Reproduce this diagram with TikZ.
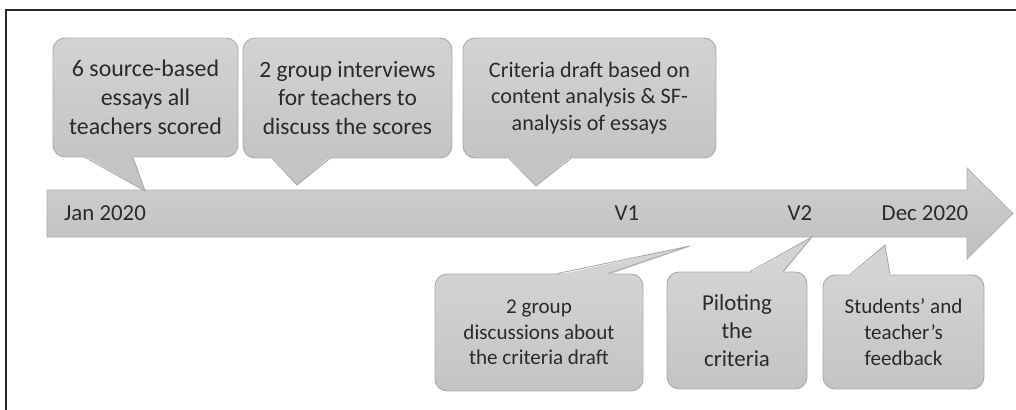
\documentclass[tikz,border=0pt]{standalone}
\usepackage{fontspec}
\setmainfont{Carlito}
\usetikzlibrary{calc}
\definecolor{bubbletop}{HTML}{D3D3D3}
\definecolor{bubblebot}{HTML}{C4C4C4}
\definecolor{bubbleedge}{HTML}{A9A9A9}
\definecolor{arrowtop}{HTML}{D0D0D0}
\definecolor{arrowbot}{HTML}{BFBFBF}
\definecolor{ink}{HTML}{2A2A2A}
\begin{document}
\begin{tikzpicture}
        [x=0.02cm, y=-0.02cm,
        bubble/.style={rectangle, rounded corners=0.24cm, draw=bubbleedge, line width=0.5pt,
            top color=bubbletop, bottom color=bubblebot, text=ink, align=center, inner sep=0pt},
        tag/.style={text=ink, inner sep=0pt, font=\fontsize{13}{15.6}\selectfont},
        tailedge/.style={draw=bubbleedge, line width=0.5pt}]
        \useasboundingbox (0,0) rectangle (1016,409);
        % frame
        \draw[line width=1.4pt, black!85] (6,420) -- (6,10) -- (1030,10);
        % time arrow
        \draw[draw=arrowbot!90!black, line width=0.4pt, top color=arrowtop, bottom color=arrowbot]
            (47,190) -- (967,190) -- (967,168) -- (1013,213.5) -- (967,259)
            -- (967,237) -- (47,237) -- cycle;
        \node[tag] (jan) at (105,213) {Jan 2020};
        \node[tag] (v1) at (627,213) {V1};
        \node[tag] (v2) at (800,213) {V2};
        \node[tag] (dec) at (925,213) {Dec 2020};
        % where the tails point
        \coordinate (tip1) at (145,191);
        \coordinate (tip2) at (297,185);
        \coordinate (tip3) at (536,186);
        \coordinate (tip4) at (690,246);
        \coordinate (tip5) at (812,237);
        \coordinate (tip6) at (885,245);
        % bubbles above
        \node[bubble, minimum width=3.7cm, minimum height=2.38cm,
            font=\fontsize{13.6}{16.4}\selectfont] (scored) at (145.5,97.5)
            {6 source-based\\essays all\\teachers scored};
        \node[bubble, minimum width=4.18cm, minimum height=2.4cm,
            font=\fontsize{13.3}{16}\selectfont] (interviews) at (347.5,98)
            {2 group interviews\\for teachers to\\discuss the scores};
        \node[bubble, minimum width=5.06cm, minimum height=2.4cm,
            font=\fontsize{12.6}{15.2}\selectfont] (draft) at (589.5,98)
            {Criteria draft based on\\content analysis \& SF-\\analysis of essays};
        % bubbles below
        \node[bubble, minimum width=4.16cm, minimum height=2.34cm,
            font=\fontsize{12}{14.6}\selectfont] (discuss) at (539,332.5)
            {2 group\\discussions about\\the criteria draft};
        \node[bubble, minimum width=2.8cm, minimum height=2.34cm,
            font=\fontsize{13}{15.8}\selectfont] (pilot) at (737,330.5)
            {Piloting\\the\\criteria};
        \node[bubble, minimum width=3.22cm, minimum height=2.28cm,
            font=\fontsize{12}{14.6}\selectfont] (feedback) at (903.5,332)
            {Students’ and\\teacher’s\\feedback};
        % tails
        \fill[bubblebot] ($(scored.south)+(-60.5,-1.5)$) -- (tip1) -- ($(scored.south)+(-12.5,-1.5)$) -- cycle;
        \draw[tailedge] ($(scored.south)+(-60.5,0)$) -- (tip1) -- ($(scored.south)+(-12.5,0)$);
        \fill[bubblebot] ($(interviews.south)+(-75.5,-1.5)$) -- (tip2) -- ($(interviews.south)+(-17.5,-1.5)$) -- cycle;
        \draw[tailedge] ($(interviews.south)+(-75.5,0)$) -- (tip2) -- ($(interviews.south)+(-17.5,0)$);
        \fill[bubblebot] ($(draft.south)+(-80.5,-1.5)$) -- (tip3) -- ($(draft.south)+(-18.5,-1.5)$) -- cycle;
        \draw[tailedge] ($(draft.south)+(-80.5,0)$) -- (tip3) -- ($(draft.south)+(-18.5,0)$);
        \fill[bubbletop] ($(discuss.north)+(18,1.5)$) -- (tip4) -- ($(discuss.north)+(69,1.5)$) -- cycle;
        \draw[tailedge] ($(discuss.north)+(18,0)$) -- (tip4) -- ($(discuss.north)+(69,0)$);
        \fill[bubbletop] ($(pilot.north)+(13,1.5)$) -- (tip5) -- ($(pilot.north)+(46,1.5)$) -- cycle;
        \draw[tailedge] ($(pilot.north)+(13,0)$) -- (tip5) -- ($(pilot.north)+(46,0)$);
        \fill[bubbletop] ($(feedback.north)+(-53.5,1.5)$) -- (tip6) -- ($(feedback.north)+(-13.5,1.5)$) -- cycle;
        \draw[tailedge] ($(feedback.north)+(-53.5,0)$) -- (tip6) -- ($(feedback.north)+(-13.5,0)$);
\end{tikzpicture}
\end{document}
